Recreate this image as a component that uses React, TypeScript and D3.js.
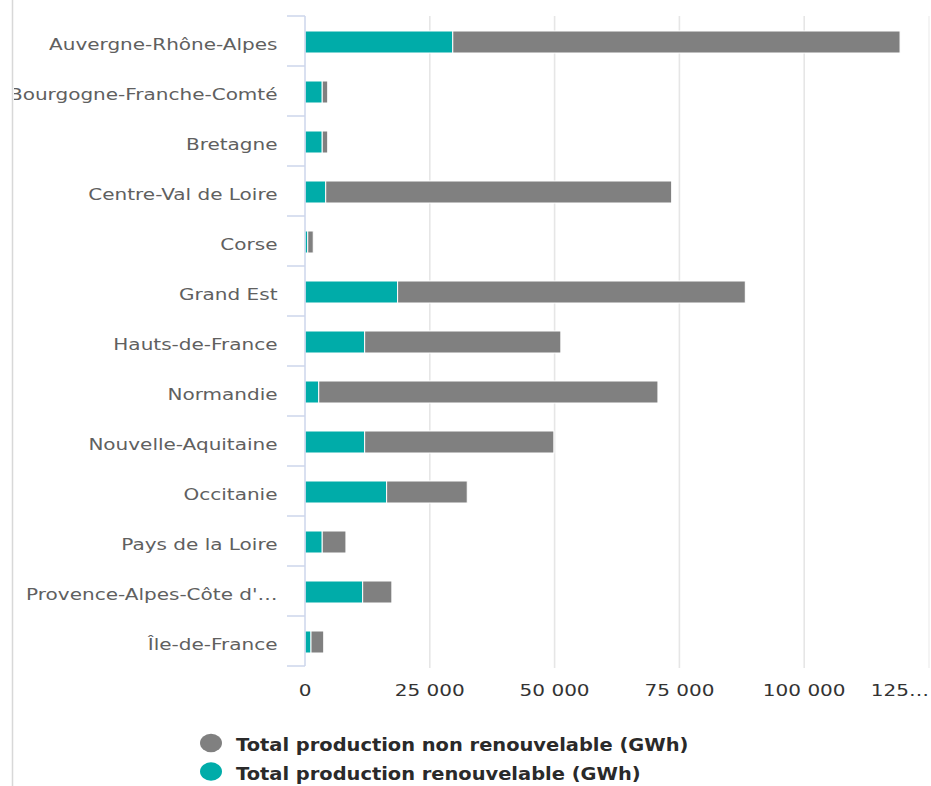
import React from "react";
import * as d3 from "d3";

const categories = [
  "Auvergne-Rhône-Alpes",
  "Bourgogne-Franche-Comté",
  "Bretagne",
  "Centre-Val de Loire",
  "Corse",
  "Grand Est",
  "Hauts-de-France",
  "Normandie",
  "Nouvelle-Aquitaine",
  "Occitanie",
  "Pays de la Loire",
  "Provence-Alpes-Côte d'…",
  "Île-de-France",
];

const renouvelable = [29600, 3450, 3450, 4150, 550, 18550, 11950, 2750, 11950, 16350, 3450, 11550, 1200];
const nonRenouvelable = [89600, 1100, 1100, 69300, 1100, 69650, 39300, 67950, 37900, 16150, 4750, 5850, 2550];

const tickValues = [0, 25000, 50000, 75000, 100000, 125000];
const tickLabels = ["0", "25 000", "50 000", "75 000", "100 000", "125…"];

const seriesNames = ["Total production non renouvelable (GWh)", "Total production renouvelable (GWh)"];
const seriesColors = ["#808080", "#00aca9"];

const W = 931;
const H = 786;
const SX = 1.25;

export default function App() {
  const x = d3.scaleLinear().domain([0, 125000]).range([305, 929]);
  const y = d3.scaleBand<string>().domain(categories).range([16, 666]);
  const barH = 22;

  const rows = categories.map((c, i) => ({ cat: c, ren: renouvelable[i], non: nonRenouvelable[i] }));
  const stack = d3.stack<any>().keys(["ren", "non"]);
  const layers = stack(rows);
  const layerColor: Record<string, string> = { ren: seriesColors[1], non: seriesColors[0] };

  const font = "'DejaVu Sans', Verdana, sans-serif";
  const bandTicks = categories.map((c) => y(c)!).concat([y.range()[1]]);

  return (
    <svg
      width={W}
      height={H}
      style={{ position: "absolute", left: 0, top: 0, background: "#fff" }}
      fontFamily={font}
    >
      <defs>
        <clipPath id="lblclip">
          <rect x={14} y={0} width={W} height={H} />
        </clipPath>
      </defs>
      <rect x={0} y={0} width={W} height={H} fill="#fff" />
      {/* left border */}
      <line x1={12.5} x2={12.5} y1={0} y2={H} stroke="#d8d8d8" strokeWidth={1.5} />

      {/* grid lines */}
      {tickValues.slice(1).map((t, i, arr) => (
        <line
          key={t}
          x1={x(t)}
          x2={x(t)}
          y1={16}
          y2={668}
          stroke={i === arr.length - 1 ? "#f2f2f2" : "#e6e6e6"}
          strokeWidth={1.6}
        />
      ))}

      {/* bars */}
      {layers.map((layer) => (
        <g key={layer.key} fill={layerColor[layer.key]}>
          {layer.map((d, i) => (
            <rect
              key={i}
              x={x(d[0])}
              y={y(categories[i])! + y.bandwidth() / 2 + 1 - barH / 2}
              width={Math.max(0, x(d[1]) - x(d[0]))}
              height={barH}
              stroke="#fff"
              strokeWidth={1}
            />
          ))}
        </g>
      ))}

      {/* y axis */}
      <line x1={305} x2={305} y1={16} y2={666} stroke="#ccd6eb" strokeWidth={1.5} />
      {bandTicks.map((t, i) => (
        <line key={i} x1={287} x2={305} y1={t} y2={t} stroke="#ccd6eb" strokeWidth={1.5} />
      ))}

      {/* category labels */}
      <g clipPath="url(#lblclip)">
        {categories.map((c) => (
          <text
            key={c}
            transform={`translate(277.5,${y(c)! + y.bandwidth() / 2 + 8.5}) scale(${SX},1)`}
            textAnchor="end"
            fontSize={16}
            fill="#606060"
          >
            {c}
          </text>
        ))}
      </g>

      {/* x tick labels */}
      {tickValues.map((t, i) => {
        const last = i === tickValues.length - 1;
        return (
          <text
            key={t}
            transform={`translate(${last ? 929 : x(t)},696) scale(${SX},1)`}
            textAnchor={last ? "end" : "middle"}
            fontSize={16}
            fill="#333"
          >
            {tickLabels[i]}
          </text>
        );
      })}

      {/* legend */}
      {seriesNames.map((n, i) => (
        <g key={n}>
          <ellipse cx={211} cy={743 + i * 28.5} rx={11} ry={9.2} fill={seriesColors[i]} />
          <text
            transform={`translate(236,${751 + i * 28.5}) scale(1.08,1)`}
            fontSize={18}
            fontWeight="bold"
            fill="#2a2a2a"
          >
            {n}
          </text>
        </g>
      ))}
    </svg>
  );
}
